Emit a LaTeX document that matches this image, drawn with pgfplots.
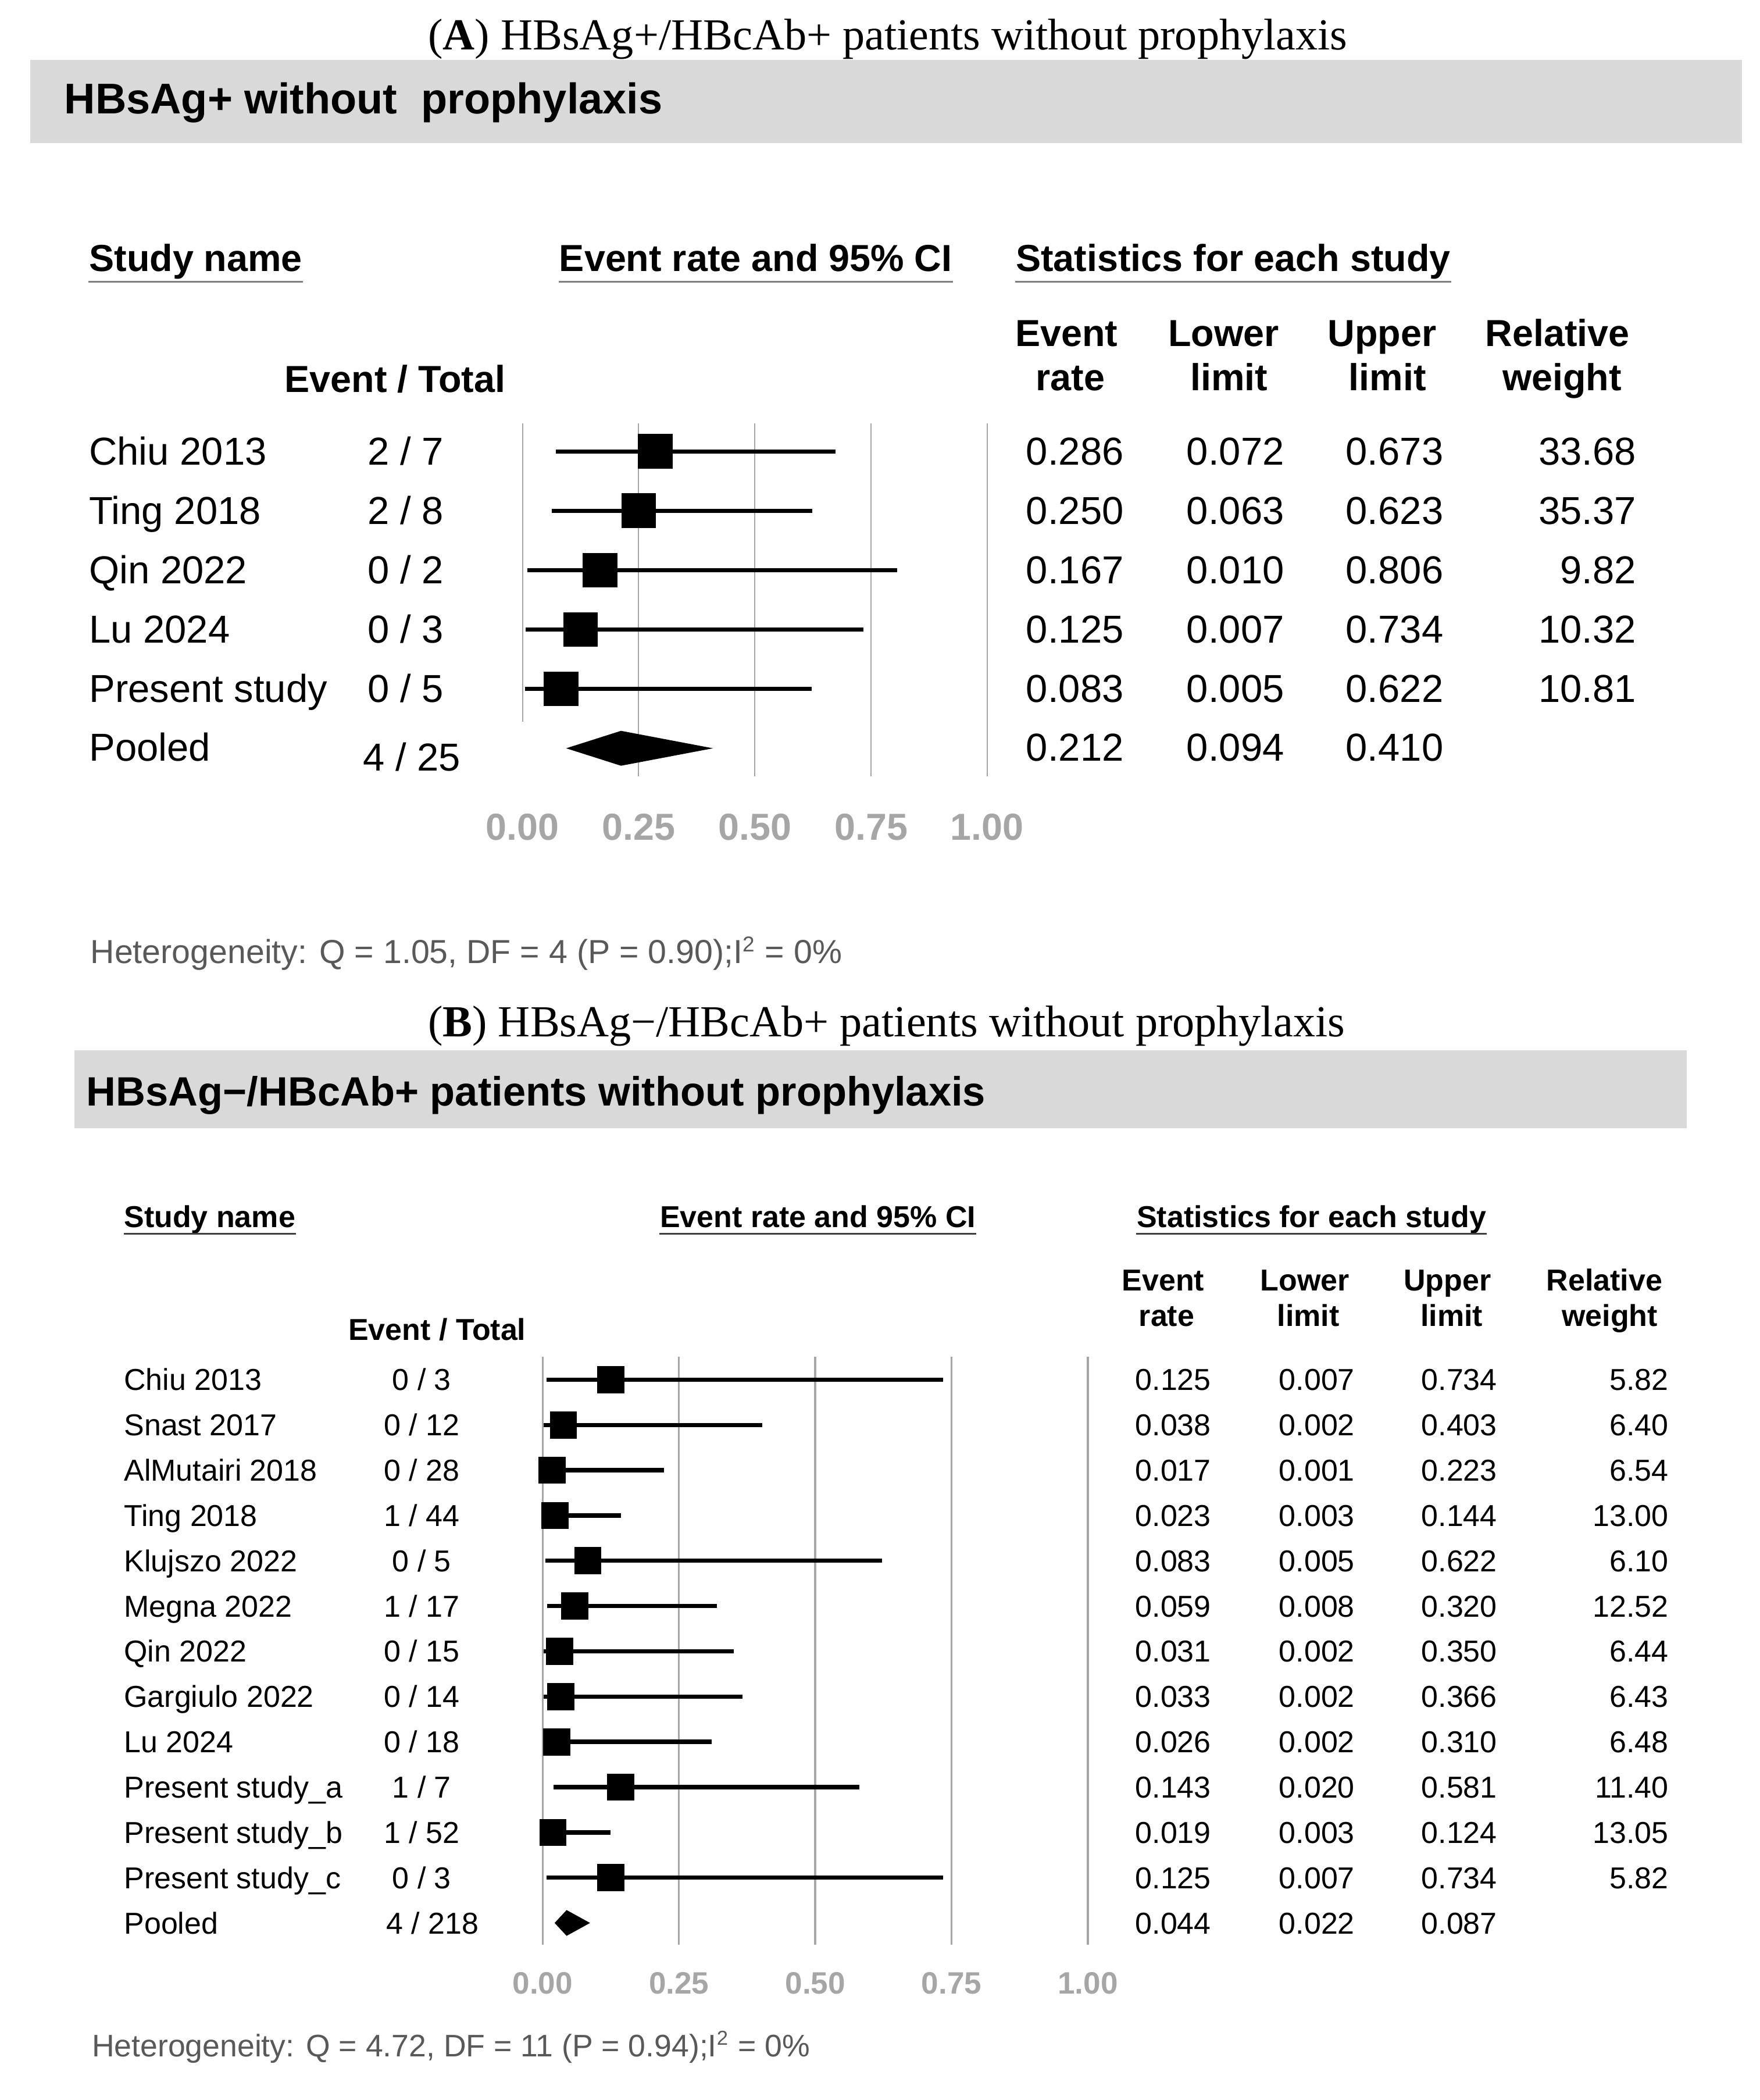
\documentclass[border=0pt]{standalone}
\usepackage{fontspec}
\setmainfont{Liberation Sans}
\newfontfamily\capfont{Liberation Serif}
\usepackage{pgfplots}
\usepackage{pgfplotstable}
\pgfplotsset{compat=1.18}

\definecolor{boxgrey}{HTML}{D9D9D9}
\definecolor{tickgrey}{HTML}{A6A6A6}
\definecolor{gridgrey}{HTML}{A6A6A6}
\definecolor{hetgrey}{HTML}{595959}
\definecolor{ulA}{HTML}{7F7F7F}
\definecolor{ulB}{HTML}{404040}

\newcommand{\fA}{\fontsize{14.5}{17}\selectfont}
\newcommand{\fAb}{\fontsize{14}{17}\selectfont\bfseries}
\newcommand{\fB}{\fontsize{11.25}{13}\selectfont}
\newcommand{\fBb}{\fontsize{11.25}{13}\selectfont\bfseries}

% Panel A studies: row, event rate, lower, upper
\pgfplotstableread{
row est lo hi
1 0.286 0.072 0.673
2 0.250 0.063 0.623
3 0.167 0.010 0.806
4 0.125 0.007 0.734
5 0.083 0.005 0.622
}\dataA

% Panel B studies
\pgfplotstableread{
row est lo hi
1 0.125 0.007 0.734
2 0.038 0.002 0.403
3 0.017 0.001 0.223
4 0.023 0.003 0.144
5 0.083 0.005 0.622
6 0.059 0.008 0.320
7 0.031 0.002 0.350
8 0.033 0.002 0.366
9 0.026 0.002 0.310
10 0.143 0.020 0.581
11 0.019 0.003 0.124
12 0.125 0.007 0.734
}\dataB

\begin{document}
\begin{tikzpicture}[x=0.5pt,y=-0.5pt]
\path[use as bounding box] (0,0) rectangle (1310,1563.2);

% ---------------- Panel A ----------------
\node[anchor=base,inner sep=0,font=\capfont\fontsize{16.5}{18}\selectfont] at (661,37)
  {(\textbf{A}) HBsAg+/HBcAb+ patients without prophylaxis};
\fill[boxgrey] (22.6,44.6) rectangle (1297,106.4);
\node[anchor=base west,inner sep=0,font=\fontsize{16}{18}\selectfont\bfseries] at (47.5,84.5)
  {HBsAg+ without\ \ prophylaxis};

\node[name=sa,anchor=base west,inner sep=0,font=\fAb] at (66,202) {Study name};
\node[name=sb,anchor=base west,inner sep=0,font=\fAb] at (416,202) {Event rate and 95\% CI};
\node[name=sc,anchor=base west,inner sep=0,font=\fAb] at (756,202) {Statistics for each study};
\foreach \n in {sa,sb,sc}
  \draw[ulA,line width=0.8pt] ([yshift=-3.85pt]\n.base west) -- ([yshift=-3.85pt]\n.base east);

\node[anchor=base west,inner sep=0,font=\fAb] at (211.5,292) {Event / Total};
\node[anchor=base,inner sep=0,font=\fAb] at (794,258) {Event};
\node[anchor=base,inner sep=0,font=\fAb] at (797,290.5) {rate};
\node[anchor=base,inner sep=0,font=\fAb] at (911,258) {Lower};
\node[anchor=base,inner sep=0,font=\fAb] at (915,290.5) {limit};
\node[anchor=base,inner sep=0,font=\fAb] at (1029,258) {Upper};
\node[anchor=base,inner sep=0,font=\fAb] at (1033,290.5) {limit};
\node[anchor=base,inner sep=0,font=\fAb] at (1159.5,258) {Relative};
\node[anchor=base,inner sep=0,font=\fAb] at (1163,290.5) {weight};

\foreach \nm/\ev/\er/\lo/\hi/\w [count=\k from 0] in {
  Chiu 2013/2 \slash{} 7/0.286/0.072/0.673/33.68,
  Ting 2018/2 \slash{} 8/0.250/0.063/0.623/35.37,
  Qin 2022/0 \slash{} 2/0.167/0.010/0.806/9.82,
  Lu 2024/0 \slash{} 3/0.125/0.007/0.734/10.32,
  Present study/0 \slash{} 5/0.083/0.005/0.622/10.81}
{
  \pgfmathsetmacro\yy{346+44.2*\k}
  \node[anchor=base west,inner sep=0,font=\fA] at (66,\yy) {\nm};
  \node[anchor=base,inner sep=0,font=\fA] at (302,\yy) {\ev};
  \node[anchor=base east,inner sep=0,font=\fA] at (837,\yy) {\er};
  \node[anchor=base east,inner sep=0,font=\fA] at (956.5,\yy) {\lo};
  \node[anchor=base east,inner sep=0,font=\fA] at (1075,\yy) {\hi};
  \node[anchor=base east,inner sep=0,font=\fA] at (1218.5,\yy) {\w};
}
\node[anchor=base west,inner sep=0,font=\fA] at (66,566.5) {Pooled};
\node[anchor=base,inner sep=0,font=\fA] at (306.5,574) {4 / 25};
\node[anchor=base east,inner sep=0,font=\fA] at (837,566.5) {0.212};
\node[anchor=base east,inner sep=0,font=\fA] at (956.5,566.5) {0.094};
\node[anchor=base east,inner sep=0,font=\fA] at (1075,566.5) {0.410};

\node[anchor=base west,inner sep=0,font=\fontsize{12.4}{14}\selectfont,text=hetgrey] at (67,717)
  {Heterogeneity: Q = 1.05, DF = 4 (P = 0.90);I\textsuperscript{\fontsize{8}{8}\selectfont 2} = 0\%};

\begin{axis}[
  at={(194.5pt,-157.5pt)}, anchor=north west, scale only axis,
  width=173pt, height=131.5pt,
  xmin=0, xmax=1, ymin=-6.475, ymax=-0.525,
  axis line style={draw=none}, major tick length=0pt,
  ytick=\empty,
  xtick={0,0.25,0.5,0.75,1}, xticklabels={0.00,0.25,0.50,0.75,1.00},
  xticklabel style={font=\fontsize{14}{14}\selectfont\bfseries, text=tickgrey,
    anchor=base, inner sep=0pt, yshift=-23.75pt},
  clip=false]
  \draw[gridgrey,line width=0.4pt] (axis cs:0,-0.525) -- (axis cs:0,-5.548);
  \draw[gridgrey,line width=0.4pt] (axis cs:0.25,-0.525) -- (axis cs:0.25,-6.475);
  \draw[gridgrey,line width=0.4pt] (axis cs:0.5,-0.525) -- (axis cs:0.5,-6.475);
  \draw[gridgrey,line width=0.4pt] (axis cs:0.75,-0.525) -- (axis cs:0.75,-6.475);
  \draw[gridgrey,line width=0.4pt] (axis cs:1,-0.525) -- (axis cs:1,-6.475);
  \addplot[draw=none, mark=none, forget plot,
    error bars/.cd, x dir=both, x explicit, error mark=none,
    error bar style={draw=black, line width=1.45pt}]
    table[x=est, y expr=-\thisrow{row},
      x error plus expr=\thisrow{hi}-\thisrow{est},
      x error minus expr=\thisrow{est}-\thisrow{lo}] {\dataA};
  \addplot[only marks, mark=square*, mark size=6.25pt, black]
    table[x=est, y expr=-\thisrow{row}] {\dataA};
  \addplot[fill=black, draw=none] coordinates
    {(0.094,-6) (0.212,-5.706) (0.410,-6) (0.212,-6.294)} -- cycle;
\end{axis}

% ---------------- Panel B ----------------
\node[anchor=base,inner sep=0,font=\capfont\fontsize{16.5}{18}\selectfont] at (660,771.5)
  {(\textbf{B}) HBsAg−/HBcAb+ patients without prophylaxis};
\fill[boxgrey] (55.5,782) rectangle (1256,840);
\node[anchor=base west,inner sep=0,font=\fontsize{15.25}{17}\selectfont\bfseries] at (64,823)
  {HBsAg−/HBcAb+ patients without prophylaxis};

\node[name=ta,anchor=base west,inner sep=0,font=\fBb] at (92,913.5) {Study name};
\node[name=tb,anchor=base west,inner sep=0,font=\fBb] at (491,913.5) {Event rate and 95\% CI};
\node[name=tc,anchor=base west,inner sep=0,font=\fBb] at (846,913.5) {Statistics for each study};
\foreach \n in {ta,tb,tc}
  \draw[ulB,line width=0.7pt] ([yshift=-2.5pt]\n.base west) -- ([yshift=-2.5pt]\n.base east);

\node[anchor=base west,inner sep=0,font=\fBb] at (259,997.6) {Event / Total};
\node[anchor=base,inner sep=0,font=\fBb] at (866,961) {Event};
\node[anchor=base,inner sep=0,font=\fBb] at (868.6,987) {rate};
\node[anchor=base,inner sep=0,font=\fBb] at (971.5,961) {Lower};
\node[anchor=base,inner sep=0,font=\fBb] at (974,987) {limit};
\node[anchor=base,inner sep=0,font=\fBb] at (1077.7,961) {Upper};
\node[anchor=base,inner sep=0,font=\fBb] at (1080.8,987) {limit};
\node[anchor=base,inner sep=0,font=\fBb] at (1194.6,961) {Relative};
\node[anchor=base,inner sep=0,font=\fBb] at (1198.5,987) {weight};

\foreach \nm/\ev/\er/\lo/\hi/\w [count=\k from 0] in {
  Chiu 2013/0 \slash{} 3/0.125/0.007/0.734/5.82,
  Snast 2017/0 \slash{} 12/0.038/0.002/0.403/6.40,
  AlMutairi 2018/0 \slash{} 28/0.017/0.001/0.223/6.54,
  Ting 2018/1 \slash{} 44/0.023/0.003/0.144/13.00,
  Klujszo 2022/0 \slash{} 5/0.083/0.005/0.622/6.10,
  Megna 2022/1 \slash{} 17/0.059/0.008/0.320/12.52,
  Qin 2022/0 \slash{} 15/0.031/0.002/0.350/6.44,
  Gargiulo 2022/0 \slash{} 14/0.033/0.002/0.366/6.43,
  Lu 2024/0 \slash{} 18/0.026/0.002/0.310/6.48,
  Present study\_a/1 \slash{} 7/0.143/0.020/0.581/11.40,
  Present study\_b/1 \slash{} 52/0.019/0.003/0.124/13.05,
  Present study\_c/0 \slash{} 3/0.125/0.007/0.734/5.82}
{
  \pgfmathsetmacro\yy{1035+33.7*\k}
  \node[anchor=base west,inner sep=0,font=\fB] at (92,\yy) {\nm};
  \node[anchor=base,inner sep=0,font=\fB] at (314,\yy) {\ev};
  \node[anchor=base east,inner sep=0,font=\fB] at (902,\yy) {\er};
  \node[anchor=base east,inner sep=0,font=\fB] at (1009,\yy) {\lo};
  \node[anchor=base east,inner sep=0,font=\fB] at (1115,\yy) {\hi};
  \node[anchor=base east,inner sep=0,font=\fB] at (1242.5,\yy) {\w};
}
\node[anchor=base west,inner sep=0,font=\fB] at (92,1439.4) {Pooled};
\node[anchor=base,inner sep=0,font=\fB] at (322,1439.4) {4 / 218};
\node[anchor=base east,inner sep=0,font=\fB] at (902,1439.4) {0.044};
\node[anchor=base east,inner sep=0,font=\fB] at (1009,1439.4) {0.022};
\node[anchor=base east,inner sep=0,font=\fB] at (1115,1439.4) {0.087};

\node[anchor=base west,inner sep=0,font=\fontsize{11.6}{13}\selectfont,text=hetgrey] at (68,1531)
  {Heterogeneity: Q = 4.72, DF = 11 (P = 0.94);I\textsuperscript{\fontsize{7.5}{7.5}\selectfont 2} = 0\%};

\begin{axis}[
  at={(202pt,-505pt)}, anchor=north west, scale only axis,
  width=203pt, height=218.75pt,
  xmin=0, xmax=1, ymin=-13.478, ymax=-0.4955,
  axis line style={draw=none}, major tick length=0pt,
  ytick=\empty,
  xtick={0,0.25,0.5,0.75,1}, xticklabels={0.00,0.25,0.50,0.75,1.00},
  xticklabel style={font=\fontsize{11.5}{12}\selectfont\bfseries, text=tickgrey,
    anchor=base, inner sep=0pt, yshift=-18.25pt},
  clip=false]
  \draw[gridgrey,line width=0.75pt] (axis cs:0,-0.4955) -- (axis cs:0,-13.478);
  \draw[gridgrey,line width=0.75pt] (axis cs:0.25,-0.4955) -- (axis cs:0.25,-13.478);
  \draw[gridgrey,line width=0.75pt] (axis cs:0.5,-0.4955) -- (axis cs:0.5,-13.478);
  \draw[gridgrey,line width=0.75pt] (axis cs:0.75,-0.4955) -- (axis cs:0.75,-13.478);
  \draw[gridgrey,line width=0.75pt] (axis cs:1,-0.4955) -- (axis cs:1,-13.478);
  \addplot[draw=none, mark=none, forget plot,
    error bars/.cd, x dir=both, x explicit, error mark=none,
    error bar style={draw=black, line width=1.6pt}]
    table[x=est, y expr=-\thisrow{row},
      x error plus expr=\thisrow{hi}-\thisrow{est},
      x error minus expr=\thisrow{est}-\thisrow{lo}] {\dataB};
  \addplot[only marks, mark=square*, mark size=4.85pt, black]
    table[x=est, y expr=-\thisrow{row}] {\dataB};
  \addplot[fill=black, draw=none] coordinates
    {(0.022,-13) (0.044,-12.715) (0.087,-13) (0.044,-13.285)} -- cycle;
\end{axis}
\end{tikzpicture}
\end{document}
